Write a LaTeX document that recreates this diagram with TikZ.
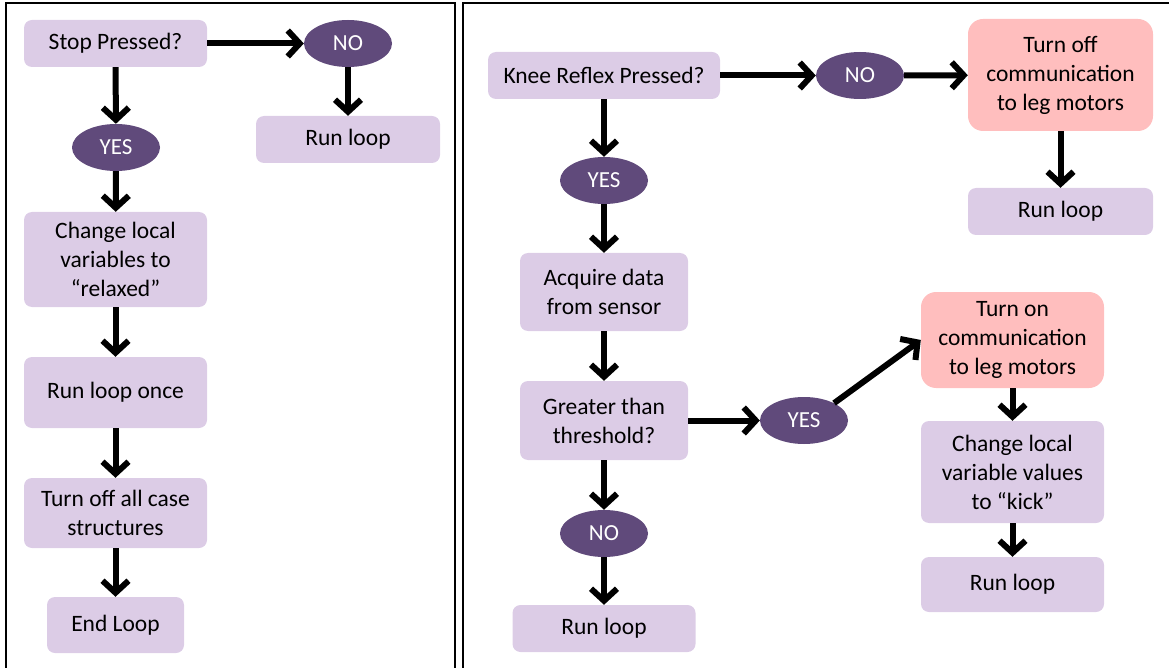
\documentclass[tikz,border=0pt]{standalone}
\usepackage{fontspec}
\setmainfont{Carlito}
\usetikzlibrary{arrows.meta,shapes.geometric}
\definecolor{boxlav}{RGB}{220,204,230}
\definecolor{ovalpurp}{RGB}{96,74,123}
\definecolor{boxpink}{RGB}{255,190,190}
\begin{document}
\begin{tikzpicture}[x=1pt,y=-1pt,
  stepbox/.style={fill=boxlav, rounded corners=8pt, align=center, inner sep=0pt,
    font=\fontsize{23.5}{29}\selectfont},
  alertbox/.style={stepbox, fill=boxpink, rounded corners=15pt},
  decision/.style={ellipse, fill=ovalpurp, text=white, inner sep=0pt,
    minimum width=88pt, minimum height=47pt, font=\fontsize{23}{29}\selectfont},
  flow/.style={line width=6pt, -{Straight Barb[length=12pt,width=26pt]}},
  panel/.style={line width=2.7pt}]
\useasboundingbox (0,0) rectangle (1169,668);

% panel frames
\draw[panel] (6,668) -- (6,3) -- (455,3) -- (455,668);
\draw[panel] (463,668) -- (463,3) -- (1169,3);

% ---- left flow: stop button ----
\node[stepbox, minimum width=183pt, minimum height=47pt] (stop) at (115.5,43.5) {Stop Pressed?};
\node[decision] (stopno) at (348,43.5) {NO};
\node[stepbox, minimum width=184pt, minimum height=47pt] (runA) at (348,139.5) {Run loop};
\node[decision] (stopyes) at (116,147.5) {YES};
\node[stepbox, minimum width=183pt, minimum height=95pt] (relax) at (115.5,259.5) {Change local\\variables to\\“relaxed”};
\node[stepbox, minimum width=183pt, minimum height=71pt] (once) at (115.5,392.5) {Run loop once};
\node[stepbox, minimum width=183pt, minimum height=70pt] (caseoff) at (115.5,513) {Turn off all case\\structures};
\node[stepbox, minimum width=137pt, minimum height=56pt] (endl) at (115.5,625) {End Loop};

\draw[flow] (stop) -- (stopno);
\draw[flow] (stopno) -- (runA);
\draw[flow] (stop) -- (stopyes);
\draw[flow] (stopyes) -- (relax);
\draw[flow] (relax) -- (once);
\draw[flow] (once) -- (caseoff);
\draw[flow] (caseoff) -- (endl);

% ---- right flow: knee reflex ----
\node[stepbox, minimum width=232pt, minimum height=47pt] (knee) at (604,75.5) {Knee Reflex Pressed?};
\node[decision] (kneeno) at (860,75.5) {NO};
\node[alertbox, minimum width=185pt, minimum height=112pt] (commoff) at (1060.5,75) {Turn off\\communication\\to leg motors};
\node[stepbox, minimum width=185pt, minimum height=47pt] (runB) at (1060.5,211.5) {Run loop};
\node[decision] (kneeyes) at (604,180.5) {YES};
\node[stepbox, minimum width=168pt, minimum height=78pt] (acq) at (604,292) {Acquire data\\from sensor};
\node[stepbox, minimum width=168pt, minimum height=79pt] (thresh) at (604,420.5) {Greater than\\threshold?};
\node[decision] (threshyes) at (804,420.5) {YES};
\node[alertbox, minimum width=183pt, minimum height=96pt] (common) at (1012.5,340) {Turn on\\communication\\to leg motors};
\node[stepbox, minimum width=183pt, minimum height=102pt] (kick) at (1012.5,472) {Change local\\variable values\\to “kick”};
\node[stepbox, minimum width=183pt, minimum height=55pt] (runC) at (1012.5,584.5) {Run loop};
\node[decision] (threshno) at (604,533.5) {NO};
\node[stepbox, minimum width=183pt, minimum height=47pt] (runD) at (604,628.5) {Run loop};

\draw[flow] (knee) -- (kneeno);
\draw[flow] (kneeno) -- (commoff);
\draw[flow] (commoff) -- (runB);
\draw[flow] (knee) -- (kneeyes);
\draw[flow] (kneeyes) -- (acq);
\draw[flow] (acq) -- (thresh);
\draw[flow] (thresh) -- (threshyes);
\draw[flow] (threshyes.30) -- (common.west);
\draw[flow] (common) -- (kick);
\draw[flow] (kick) -- (runC);
\draw[flow] (thresh) -- (threshno);
\draw[flow] (threshno) -- (runD);
\end{tikzpicture}
\end{document}
